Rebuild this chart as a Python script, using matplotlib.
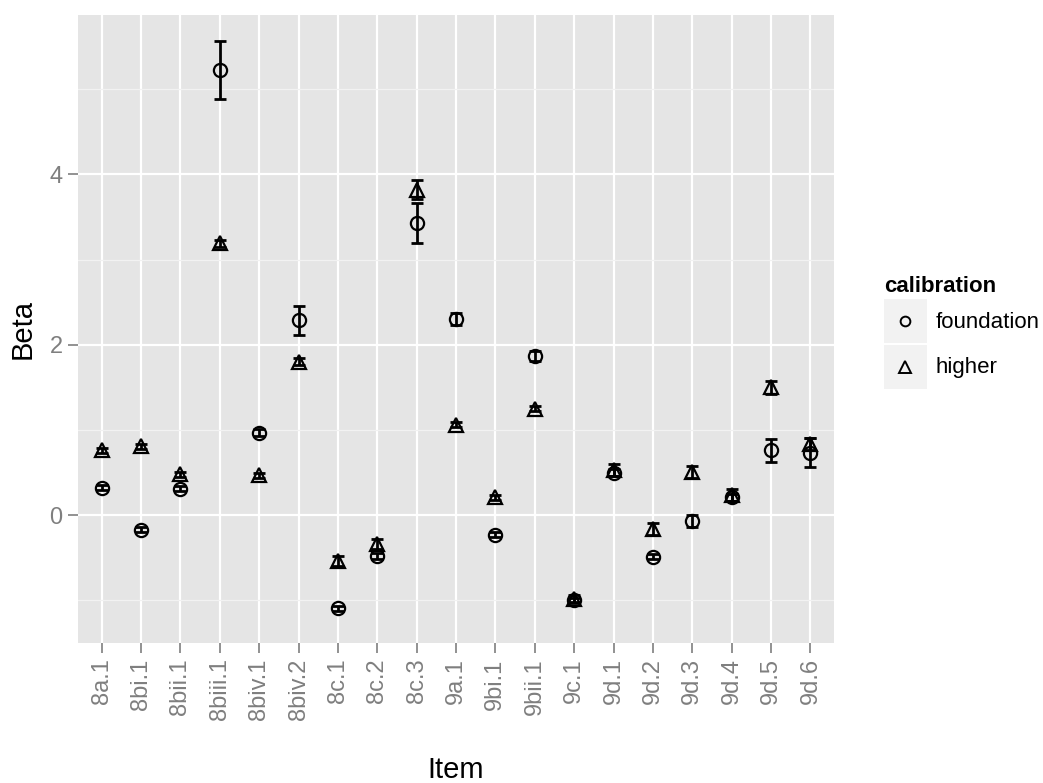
import matplotlib
matplotlib.use('Agg')
import matplotlib.pyplot as plt
from matplotlib.lines import Line2D
from matplotlib.patches import Rectangle
from matplotlib.legend_handler import HandlerBase
import numpy as np

plt.rcParams['font.family'] = ['Liberation Sans', 'DejaVu Sans']

items = ['8a.1', '8bi.1', '8bii.1', '8biii.1', '8biv.1', '8biv.2', '8c.1', '8c.2', '8c.3',
         '9a.1', '9bi.1', '9bii.1', '9c.1', '9d.1', '9d.2', '9d.3', '9d.4', '9d.5', '9d.6']
foundation = [0.32, -0.17, 0.31, 5.22, 0.97, 2.29, -1.09, -0.48, 3.43,
              2.30, -0.23, 1.87, -1.00, 0.50, -0.49, -0.07, 0.21, 0.76, 0.73]
foundation_se = [0.03, 0.03, 0.03, 0.34, 0.04, 0.17, 0.03, 0.04, 0.23,
                 0.07, 0.03, 0.06, 0.03, 0.04, 0.03, 0.07, 0.04, 0.13, 0.17]
higher = [0.76, 0.81, 0.48, 3.19, 0.47, 1.80, -0.54, -0.34, 3.82,
          1.06, 0.21, 1.25, -0.98, 0.53, -0.16, 0.51, 0.24, 1.50, 0.83]
higher_se = [0.03, 0.03, 0.03, 0.04, 0.03, 0.04, 0.06, 0.06, 0.11,
             0.03, 0.03, 0.03, 0.04, 0.07, 0.07, 0.07, 0.07, 0.08, 0.07]


# legend key: grey square with the marker in the middle, like ggplot
class KeyHandler(HandlerBase):
    def create_artists(self, legend, orig_handle, xdescent, ydescent,
                       width, height, fontsize, trans):
        rect = Rectangle((-xdescent, -ydescent), width, height,
                         facecolor='#f2f2f2', edgecolor='none', transform=trans)
        mk = Line2D([-xdescent + width / 2], [-ydescent + height / 2],
                    linestyle='none', marker=orig_handle.get_marker(),
                    markersize=orig_handle.get_markersize(),
                    markerfacecolor='none', markeredgecolor='black',
                    markeredgewidth=orig_handle.get_markeredgewidth(),
                    transform=trans)
        return [rect, mk]


fig = plt.figure(figsize=(10.43, 7.83), dpi=100)
W, H = 1043, 783
ax = fig.add_axes([78 / W, (H - 643) / H, (834 - 78) / W, (643 - 15) / H])
ax.set_facecolor('#e5e5e5')
for s in ax.spines.values():
    s.set_visible(False)

x = np.arange(len(items))
ax.errorbar(x, foundation, yerr=foundation_se, fmt='none', ecolor='black',
            elinewidth=2, capsize=4, capthick=2, zorder=3)
ax.errorbar(x, higher, yerr=higher_se, fmt='none', ecolor='black',
            elinewidth=2, capsize=4, capthick=2, zorder=3)
ax.plot(x, foundation, linestyle='none', marker='o', markersize=9.5,
        markerfacecolor='none', markeredgecolor='black', markeredgewidth=1.6, zorder=4)
ax.plot(x, higher, linestyle='none', marker='^', markersize=10.5,
        markerfacecolor='none', markeredgecolor='black', markeredgewidth=1.6, zorder=4)

ax.set_xlim(-0.6, len(items) - 0.4)
ax.set_ylim(-1.5, 5.87)
ax.set_xticks(x)
ax.set_xticklabels(items, rotation=90)
ax.set_yticks([0, 2, 4])
ax.set_yticks([-1, 1, 3, 5], minor=True)
ax.grid(True, which='major', color='white', linewidth=1.6)
ax.grid(True, which='minor', axis='y', color='#f2f2f2', linewidth=0.9)
ax.set_axisbelow(True)
ax.tick_params(axis='both', which='major', length=7, width=1.2, color='#7f7f7f',
               labelcolor='#7f7f7f', labelsize=17, pad=4)
ax.tick_params(axis='y', which='minor', length=0)

ax.set_xlabel('Item', fontsize=21, labelpad=26)
ax.set_ylabel('Beta', fontsize=21, labelpad=9)

h1 = Line2D([], [], linestyle='none', marker='o', markersize=7, markeredgewidth=1.4)
h2 = Line2D([], [], linestyle='none', marker='^', markersize=8, markeredgewidth=1.4)
leg = fig.legend([h1, h2], ['foundation', 'higher'], title='calibration',
                 handler_map={Line2D: KeyHandler()},
                 loc='upper left', bbox_to_anchor=(866 / W, 1 - 258 / H),
                 frameon=False, fontsize=16, handlelength=1.95, handleheight=2.65,
                 handletextpad=0.4, labelspacing=0.1, borderpad=0.3)
leg.get_title().set_fontweight('bold')
leg.get_title().set_fontsize(16)
leg._legend_box.align = 'left'

fig.savefig('out.png', dpi=100)
